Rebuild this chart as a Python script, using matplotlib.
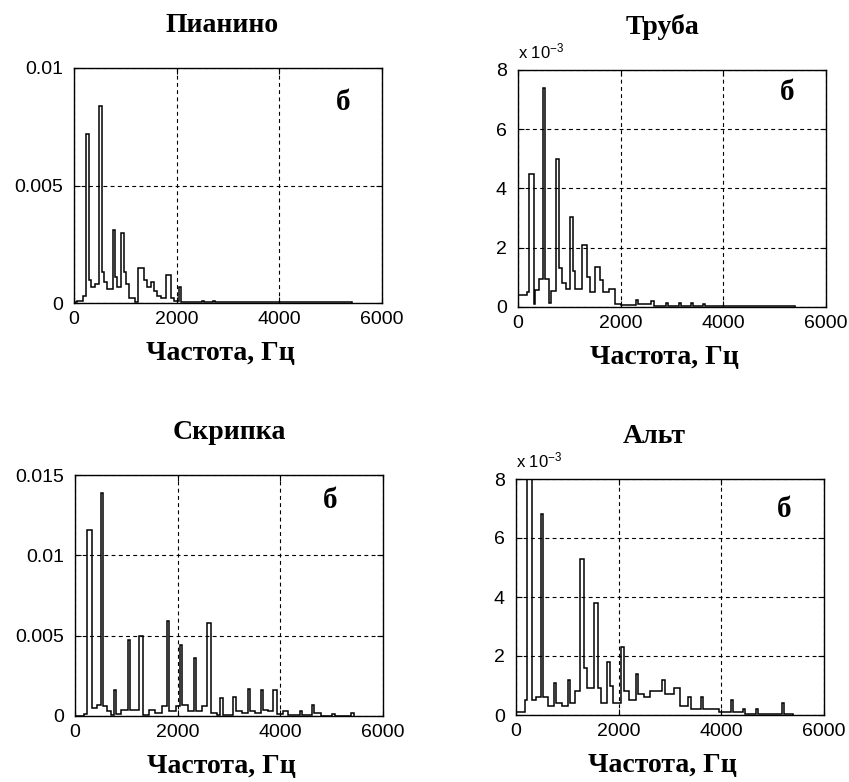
import matplotlib
matplotlib.use("Agg")
import matplotlib.pyplot as plt
import numpy as np
from matplotlib.ticker import FuncFormatter

plt.rcParams['font.family'] = ['Liberation Sans', 'DejaVu Sans']
plt.rcParams['mathtext.fontset'] = 'custom'
plt.rcParams['mathtext.rm'] = 'Liberation Sans'
plt.rcParams['mathtext.default'] = 'regular'

# spectra: left edge of each step (Hz), level, and where the trace ends
piano_f = [0, 60, 180, 230, 300, 330, 400, 490, 540, 580, 640, 750, 795, 840, 920, 970,
           1020, 1080, 1180, 1250, 1360, 1420, 1500, 1560, 1620, 1700, 1800, 1880, 1940,
           2050, 2090, 2200, 2500, 2540, 2700, 2740]
piano_a = [0.00003, 0.0001, 0.0003, 0.0072, 0.0010, 0.0007, 0.0008, 0.0084, 0.0013, 0.0009,
           0.0006, 0.0031, 0.0011, 0.0007, 0.0030, 0.0013, 0.0008, 0.0002, 0.00005, 0.0015,
           0.0010, 0.0007, 0.0009, 0.0005, 0.0003, 0.0002, 0.0012, 0.0002, 0.0001, 0.0007,
           0.00005, 0.00003, 0.0001, 0.00003, 0.00008, 0.00003]
piano_end = 5420

trumpet_f = [0, 170, 221, 312, 340, 400, 481, 530, 600, 640, 740, 805, 850, 940, 1013, 1065,
             1110, 1247, 1340, 1400, 1506, 1597, 1660, 1780, 1880, 2000, 2290, 2340, 2600,
             2650, 2880, 2920, 3130, 3170, 3370, 3410, 3600, 3640]
trumpet_a = [0.0004, 0.0005, 0.0045, 0.0001, 0.00056, 0.00095, 0.0074, 0.00095, 0.00015,
             0.00055, 0.0050, 0.0013, 0.0008, 0.0006, 0.00305, 0.0012, 0.0006, 0.0021, 0.0010,
             0.0005, 0.00136, 0.0009, 0.0005, 0.0006, 0.0001, 0.00008, 0.00025, 0.0001, 0.0002,
             0.00005, 0.00015, 0.00003, 0.00015, 0.00003, 0.00012, 0.00003, 0.0001, 0.00002]
trumpet_end = 5400

violin_f = [0, 180, 240, 325, 420, 500, 540, 620, 700, 760, 800, 900, 1032, 1071, 1240, 1331,
            1450, 1550, 1700, 1786, 1831, 1960, 2045, 2090, 2200, 2312, 2357, 2480, 2565, 2643,
            2760, 2825, 2890, 3085, 3130, 3250, 3365, 3400, 3500, 3620, 3660, 3760, 3850, 3930,
            4050, 4150, 4390, 4430, 4610, 4660, 4800, 5000, 5060, 5380]
violin_a = [0.00003, 0.0001, 0.0116, 0.0005, 0.0007, 0.0139, 0.0006, 0.0003, 0.00005, 0.0016,
            0.0001, 0.0004, 0.0047, 0.0004, 0.0050, 0.00005, 0.0004, 0.0002, 0.0006, 0.0059,
            0.0003, 0.0006, 0.0044, 0.0007, 0.0003, 0.0036, 0.0003, 0.0006, 0.0058, 0.0002,
            0.00005, 0.0011, 0.00005, 0.0012, 0.0003, 0.0002, 0.0017, 0.0003, 0.0002, 0.0016,
            0.0004, 0.0003, 0.0016, 0.0001, 0.0003, 0.00005, 0.0003, 0.00005, 0.0007, 0.0002,
            0.00003, 0.00015, 0.00003, 0.0002]
violin_end = 5430

viola_f = [0, 175, 220, 305, 380, 487, 530, 620, 740, 780, 900, 1010, 1050, 1150, 1247, 1325,
           1380, 1526, 1597, 1660, 1779, 1831, 1890, 2039, 2104, 2200, 2330, 2370, 2500, 2620,
           2840, 2900, 3080, 3200, 3360, 3400, 3610, 3650, 3950, 4180, 4220, 4420, 4460, 4670,
           4710, 5190, 5230]
viola_a = [0.0001, 0.0005, 0.0085, 0.0005, 0.0006, 0.0068, 0.0006, 0.0003, 0.0011, 0.0004,
           0.0003, 0.0012, 0.0004, 0.0008, 0.0053, 0.0016, 0.0009, 0.0038, 0.0009, 0.0004,
           0.0018, 0.0010, 0.0004, 0.0023, 0.0008, 0.0005, 0.0014, 0.0007, 0.0006, 0.0008,
           0.0012, 0.0007, 0.0009, 0.0003, 0.0006, 0.0002, 0.0006, 0.0002, 0.0001, 0.0005,
           0.0001, 0.0002, 0.00005, 0.0002, 0.00003, 0.0004, 0.00003]
viola_end = 5400

titles = ["Пианино", "Труба", "Скрипка", "Альт"]
xlabel = "Частота, Гц"
x_ticks = [0, 2000, 4000, 6000]
y_ticks = [[0, 0.005, 0.01], [0, 0.002, 0.004, 0.006, 0.008],
           [0, 0.005, 0.01, 0.015], [0, 0.002, 0.004, 0.006, 0.008]]
y_max = [0.01, 0.008, 0.015, 0.008]
scaled = [False, True, False, True]

spectra = [(piano_f, piano_a, piano_end), (trumpet_f, trumpet_a, trumpet_end),
           (violin_f, violin_a, violin_end), (viola_f, viola_a, viola_end)]

# axes rectangles in pixels: left, top, right, bottom
W, H = 849, 782
boxes = [(74, 68, 382, 303), (518, 70, 826, 307), (75, 475, 383, 716), (516, 479, 824, 715)]
title_x = [0.48, 0.468, 0.5, 0.45]
b_pos = [(0.873, 0.82), (0.873, 0.873), (0.828, 0.863), (0.87, 0.84)]

fig = plt.figure(figsize=(W / 100, H / 100), dpi=100)
serif = ['Liberation Serif', 'DejaVu Serif']

for i, (f, a, end) in enumerate(spectra):
    l, t, r, b = boxes[i]
    ax = fig.add_axes([l / W, 1 - b / H, (r - l) / W, (b - t) / H])
    edges = list(f) + [end]
    ax.stairs(a, edges, color='black', lw=1.1, baseline=0)

    ax.set_xlim(0, 6000)
    ax.set_ylim(0, y_max[i])
    ax.set_xticks(x_ticks)
    ax.set_yticks(y_ticks[i])
    if scaled[i]:
        ax.yaxis.set_major_formatter(FuncFormatter(lambda v, p: f"{v * 1000:g}"))
        ax.text(0, 1 + 12 / (b - t), r'x 10$^{-3}$', transform=ax.transAxes,
                fontsize=12, ha='left', va='baseline')
    else:
        ax.yaxis.set_major_formatter(FuncFormatter(lambda v, p: f"{v:g}"))

    ax.grid(True, color='black', linestyle=(0, (3.5, 3)), linewidth=0.8)
    ax.tick_params(direction='in', top=True, right=True, length=4, labelsize=14)
    ax.tick_params(axis='x', pad=6)
    ax.tick_params(axis='y', pad=8)
    for s in ax.spines.values():
        s.set_linewidth(1.0)

    ax.text(title_x[i], 1 + 36 / (b - t), titles[i], transform=ax.transAxes,
            ha='center', va='baseline', fontsize=20, fontweight='bold', family=serif)
    ax.set_xlabel(xlabel, fontsize=20, fontweight='bold', family=serif, labelpad=9, x=0.475)
    ax.text(b_pos[i][0], b_pos[i][1], "б", transform=ax.transAxes, ha='center',
            va='baseline', fontsize=21, fontweight='bold', family=serif)

fig.savefig("out.png", dpi=100)
